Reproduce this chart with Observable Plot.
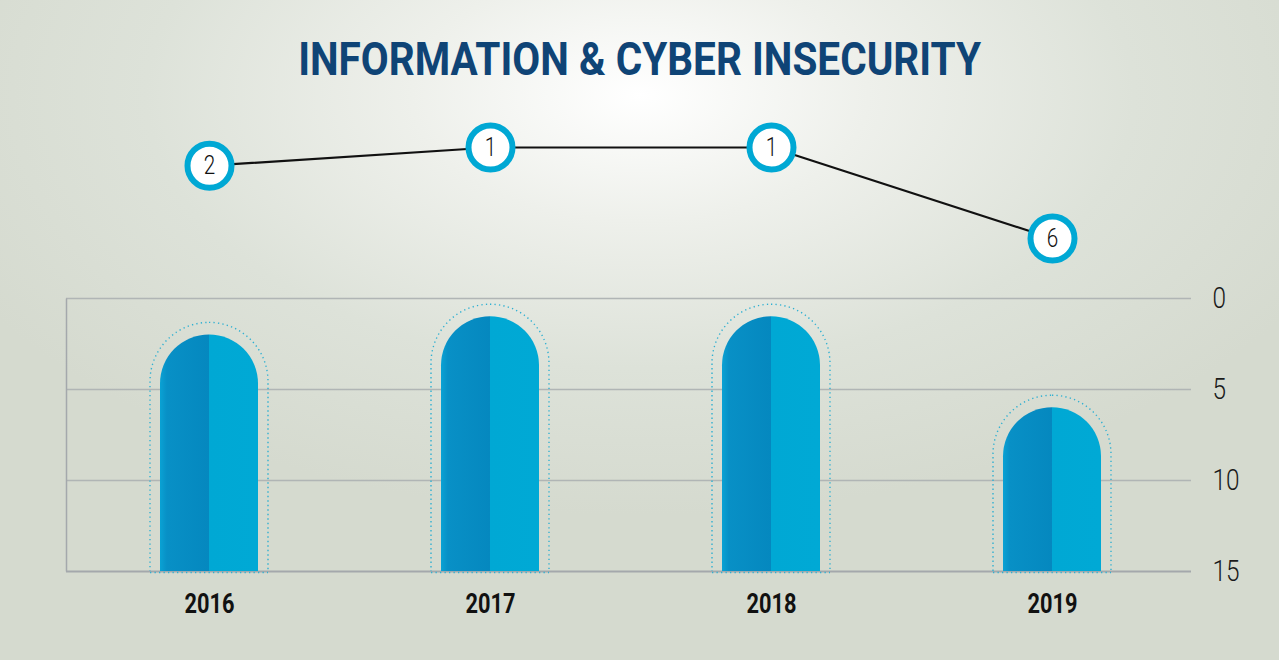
<!DOCTYPE html>
<html><head><meta charset="utf-8">
<script src="https://cdn.jsdelivr.net/npm/d3@7"></script>
<script src="https://cdn.jsdelivr.net/npm/@observablehq/plot@0.6"></script>
<style>
html,body{margin:0;padding:0;}
#wrap{position:relative;width:1279px;height:660px;overflow:hidden;
 background: radial-gradient(ellipse 760px 420px at 640px 95px, #ffffff 0%, #eef0eb 30%, #dde2d9 65%, #d5dacf 100%);}
#title{position:absolute;top:36px;left:0;width:1279px;text-align:center;white-space:nowrap;
 font-family:Roboto,"DejaVu Sans Condensed",sans-serif;font-weight:bold;font-size:46px;line-height:46px;color:#0f4476;}
#title span{display:inline-block;transform-origin:center;}
.layer{position:absolute;top:0;left:0;}
</style>
</head><body>
<svg width="0" height="0" style="position:absolute">
 <defs>
  <linearGradient id="barGrad" x1="0" x2="1" y1="0" y2="0">
   <stop offset="0" stop-color="#0aa2d4"/>
   <stop offset="0.07" stop-color="#0890c6"/>
   <stop offset="0.5" stop-color="#0588bf"/>
   <stop offset="0.5" stop-color="#00a8d4"/>
   <stop offset="1" stop-color="#00a9d5"/>
  </linearGradient>
 </defs>
</svg>
<div id="wrap">
 <div id="bars" class="layer"></div>
 <div id="line" class="layer"></div>
 <div id="title"><span>INFORMATION &amp; CYBER INSECURITY</span></div>
</div>
<script>
const years = ["2016", "2017", "2018", "2019"];
const ranks = [2, 1, 1, 6];
const yTicks = [0, 5, 10, 15];
const rankMax = 15;

const data = years.map((year, i) => ({year, rank: ranks[i]}));

const W = 1279, H = 660;
const mL = 66, mR = 88, mT = 298, mB = 89;
const frameW = W - mL - mR, frameH = H - mT - mB;
const xRange = [mL + 2, W - mR + 2];
const font = 'Roboto,"DejaVu Sans",sans-serif';
const dotted = {stroke: "#2fb0d2", strokeWidth: 1.4, strokeDasharray: "1.3 3.2", fill: "none"};

function squeeze(selection, perChar) {
  selection.each(function() {
    const t = this.textContent;
    this.setAttribute("textLength", t.length * perChar);
    this.setAttribute("lengthAdjust", "spacingAndGlyphs");
  });
}

const bars = Plot.plot({
  width: W, height: H,
  marginTop: mT, marginBottom: mB, marginLeft: mL, marginRight: mR,
  style: {background: "transparent", overflow: "visible"},
  x: {domain: years, range: xRange, paddingInner: 0.651, paddingOuter: 0.3255, label: null, tickSize: 0, tickPadding: 22},
  y: {domain: [0, rankMax], reverse: true, axis: "right", ticks: yTicks, tickSize: 0, tickPadding: 21, label: null},
  marks: [
    Plot.ruleY(yTicks.slice(0, -1), {stroke: "#b0b5b5", strokeWidth: 1.3}),
    Plot.ruleY([rankMax], {stroke: "#a4a8ac", strokeWidth: 2.2}),
    Plot.frame({stroke: "#a4a8ac", strokeWidth: 1.5, strokeDasharray: `0 ${frameW * 2 + frameH} ${frameH}`}),
    Plot.barY(data, {x: "year", y1: "rank", y2: () => rankMax, insetTop: -12, insetLeft: -10, insetRight: -10, insetBottom: -80, rx: 59, clip: true, ...dotted}),
    Plot.tickY(data, {x: "year", y: () => rankMax, insetLeft: -10, insetRight: -10, dy: 1, stroke: "#2fb0d2", strokeWidth: 1.4, strokeDasharray: "1.3 3.2"}),
    Plot.barY(data, {x: "year", y1: "rank", y2: () => rankMax, rx: 49, fill: "url(#barGrad)"}),
    Plot.barY(data, {x: "year", y1: "rank", y2: () => rankMax, insetTop: 49, fill: "url(#barGrad)"})
  ]
});
document.getElementById("bars").appendChild(bars);

const sel = d3.select(bars);
const xt = sel.selectAll('g[aria-label^="x-axis"] text')
  .style("font-family", font).style("font-weight", "bold").style("font-size", "27px").style("fill", "#111");
squeeze(xt, 12.5);
const yt = sel.selectAll('g[aria-label^="y-axis"] text')
  .style("font-family", font).style("font-weight", "300").style("font-size", "29px").style("fill", "#1a1a1a");
squeeze(yt, 13.5);

const line = Plot.plot({
  width: W, height: 290,
  marginTop: 0, marginBottom: 0, marginLeft: mL, marginRight: mR,
  style: {background: "transparent", overflow: "visible"},
  x: {domain: years, range: xRange, paddingInner: 0.651, paddingOuter: 0.3255, axis: null},
  y: {domain: [1, 6], range: [147, 238], axis: null},
  marks: [
    Plot.line(data, {x: "year", y: "rank", stroke: "#111", strokeWidth: 2.2}),
    Plot.dot(data, {x: "year", y: "rank", r: 22, fill: "white", stroke: "#00a8d4", strokeWidth: 6}),
    Plot.text(data, {x: "year", y: "rank", text: d => String(d.rank), fontSize: 25, fontWeight: 300, fill: "#111", fontFamily: font})
  ]
});
document.getElementById("line").appendChild(line);
squeeze(d3.select(line).selectAll('g[aria-label="text"] text'), 11.5);

// fit title width to the reference
const span = document.querySelector("#title span");
const w = span.getBoundingClientRect().width;
span.style.transform = `scaleX(${683 / w})`;
</script>
</body></html>
